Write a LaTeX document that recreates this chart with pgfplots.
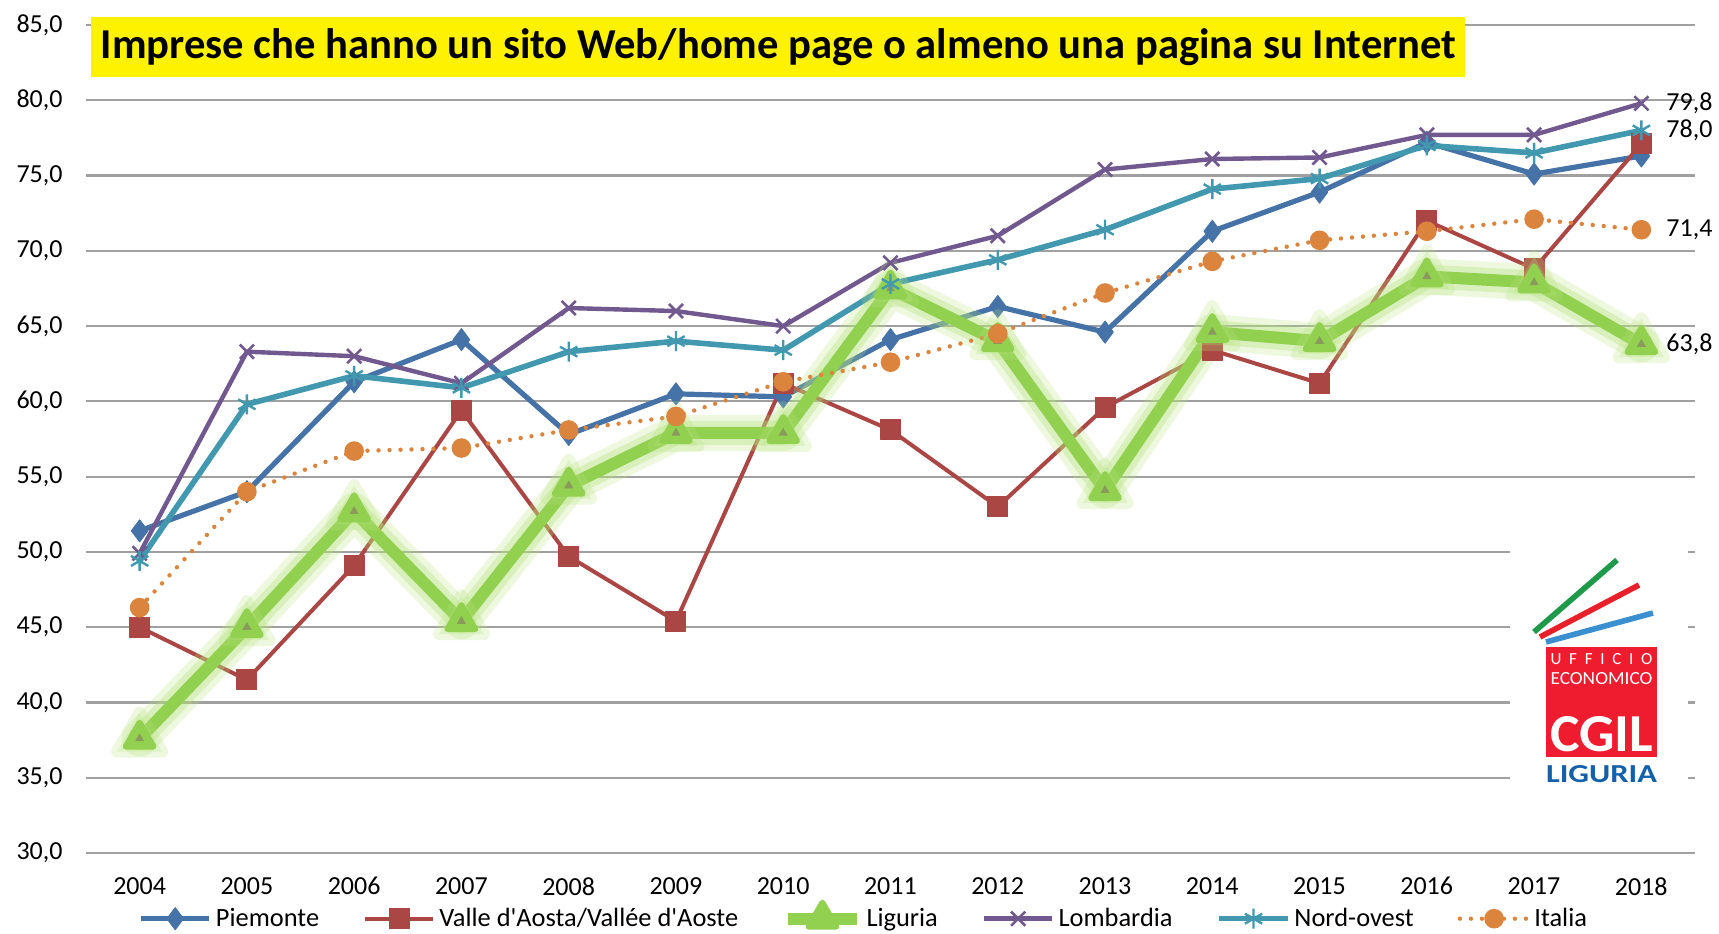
\documentclass[border=0pt]{standalone}
\usepackage{fontspec}
\setmainfont{Carlito}
\usepackage{pgfplots}
\pgfplotsset{compat=1.18}
\usepackage{graphicx}

\definecolor{cPie}{HTML}{4572A7}
\definecolor{cVda}{HTML}{AA4643}
\definecolor{cLig}{HTML}{92D050}
\definecolor{cLigGlow}{HTML}{B6E27E}
\definecolor{cLigIn}{HTML}{8A9A5B}
\definecolor{cLom}{HTML}{71588F}
\definecolor{cNo}{HTML}{4198AF}
\definecolor{cIta}{HTML}{DB843D}
\definecolor{cGrid}{HTML}{A0A0A0}
\definecolor{logoGreen}{HTML}{1E9A4A}
\definecolor{logoRed}{HTML}{E8202A}
\definecolor{logoBlue}{HTML}{3A8FD0}
\definecolor{logoBox}{HTML}{EE1C2E}
\definecolor{logoText}{HTML}{1560A8}

\begin{document}
\begin{tikzpicture}
\begin{axis}[
  scale only axis, width=804.5pt, height=414pt,
  xmin=2003.5, xmax=2018.5, ymin=30, ymax=85,
  xtick={2004,...,2018}, ytick={30,35,...,85},
  scaled x ticks=false, scaled y ticks=false,
  ymajorgrids, grid style={cGrid, line width=1.1pt},
  axis line style={draw=none}, major tick length=0pt,
  clip=false,
  /pgf/number format/assume math mode=true,
  tick label style={font=\fontsize{13}{15}\selectfont},
  y tick label style={xshift=-8.2pt},
  yticklabel style={/pgf/number format/fixed, /pgf/number format/fixed zerofill, /pgf/number format/precision=1, /pgf/number format/use comma},
  xticklabel style={/pgf/number format/1000 sep={}},
  x tick label style={yshift=-8.6pt},
  legend columns=6,
  legend style={draw=none, fill=none, at={(0.484,-0.0785)}, anchor=center,
    font=\fontsize{13.2}{15}\selectfont, inner sep=0pt,
    /tikz/every even column/.append style={column sep=20pt}},
  legend image code/.code={\draw[mark repeat=2,mark phase=2,#1] plot coordinates {(0cm,0cm) (0.6cm,0cm) (1.2cm,0cm)};},
]
\addplot[cPie, line width=2.6pt, line join=round, mark=diamond*, mark size=5.5pt, mark options={line width=0.5pt}] coordinates {
(2004,51.4) (2005,54.0) (2006,61.3) (2007,64.1) (2008,57.8) (2009,60.5) (2010,60.3) (2011,64.1) (2012,66.3) (2013,64.6) (2014,71.3) (2015,73.9) (2016,77.2) (2017,75.1) (2018,76.3)};
\addlegendentry{Piemonte}
\addplot[cVda, line width=2pt, line join=round, mark=square*, mark size=5pt, mark options={line width=0.5pt}] coordinates {
(2004,45.0) (2005,41.5) (2006,49.1) (2007,59.4) (2008,49.7) (2009,45.4) (2010,61.2) (2011,58.1) (2012,53.0) (2013,59.6) (2014,63.4) (2015,61.2) (2016,72.0) (2017,68.8) (2018,77.1)};
\addlegendentry{Valle d\textquotesingle Aosta/Vallée d\textquotesingle Aoste}
\addplot[forget plot, cLigGlow, opacity=0.25, line width=18pt, line join=round, line cap=round, mark=triangle*, mark size=13pt, mark options={line width=6pt, line join=round}] coordinates {
(2004,37.6) (2005,45.0) (2006,52.7) (2007,45.4) (2008,54.4) (2009,57.9) (2010,57.9) (2011,67.5) (2012,64.0) (2013,54.1) (2014,64.6) (2015,64.0) (2016,68.3) (2017,67.9) (2018,63.8)};
\addplot[forget plot, cLigGlow, opacity=0.35, line width=12pt, line join=round, line cap=round] coordinates {
(2004,37.6) (2005,45.0) (2006,52.7) (2007,45.4) (2008,54.4) (2009,57.9) (2010,57.9) (2011,67.5) (2012,64.0) (2013,54.1) (2014,64.6) (2015,64.0) (2016,68.3) (2017,67.9) (2018,63.8)};
\addplot[cLig, line width=6pt, line join=round, mark=triangle*, mark size=8pt, mark options={line width=3pt, line join=round}] coordinates {
(2004,37.6) (2005,45.0) (2006,52.7) (2007,45.4) (2008,54.4) (2009,57.9) (2010,57.9) (2011,67.5) (2012,64.0) (2013,54.1) (2014,64.6) (2015,64.0) (2016,68.3) (2017,67.9) (2018,63.8)};
\addlegendentry{Liguria}
\addplot[forget plot, only marks, cLigIn, mark=triangle*, mark size=2.2pt] coordinates {
(2004,37.6) (2005,45.0) (2006,52.7) (2007,45.4) (2008,54.4) (2009,57.9) (2010,57.9) (2011,67.5) (2012,64.0) (2013,54.1) (2014,64.6) (2015,64.0) (2016,68.3) (2017,67.9) (2018,63.8)};
\addplot[cLom, line width=2.2pt, line join=round, mark=x, mark size=5pt, mark options={line width=1.3pt}] coordinates {
(2004,49.9) (2005,63.3) (2006,63.0) (2007,61.2) (2008,66.2) (2009,66.0) (2010,65.0) (2011,69.2) (2012,71.0) (2013,75.4) (2014,76.1) (2015,76.2) (2016,77.7) (2017,77.7) (2018,79.8)};
\addlegendentry{Lombardia}
\addplot[cNo, line width=2.8pt, line join=round, mark=asterisk, mark size=5pt, mark options={line width=1.2pt}] coordinates {
(2004,49.4) (2005,59.8) (2006,61.7) (2007,60.9) (2008,63.3) (2009,64.0) (2010,63.4) (2011,67.8) (2012,69.4) (2013,71.4) (2014,74.1) (2015,74.8) (2016,77.0) (2017,76.5) (2018,78.0)};
\addlegendentry{Nord-ovest}
\addplot[cIta, line width=2.2pt, dash pattern=on 0pt off 5.5pt, line cap=round, mark=*, mark size=4.5pt, mark options={solid, line width=0.8pt}] coordinates {
(2004,46.3) (2005,54.0) (2006,56.7) (2007,56.9) (2008,58.1) (2009,59.0) (2010,61.3) (2011,62.6) (2012,64.5) (2013,67.2) (2014,69.3) (2015,70.7) (2016,71.3) (2017,72.1) (2018,71.4)};
\addlegendentry{Italia}
\node[anchor=west, font=\fontsize{13}{15}\selectfont, xshift=9pt] at (axis cs:2018,79.8) {79,8};
\node[anchor=west, font=\fontsize{13}{15}\selectfont, xshift=9pt] at (axis cs:2018,78.0) {78,0};
\node[anchor=west, font=\fontsize{13}{15}\selectfont, xshift=9pt] at (axis cs:2018,71.4) {71,4};
\node[anchor=west, font=\fontsize{13}{15}\selectfont, xshift=9pt] at (axis cs:2018,63.8) {63,8};
\end{axis}
% title
\node[fill=yellow, anchor=north west, minimum width=687pt, minimum height=30pt, inner sep=0pt,
  font=\fontsize{21.3}{25}\selectfont\bfseries] at (2.5pt,418pt)
  {Imprese che hanno un sito Web/home page o almeno una pagina su Internet};
% logo
\fill[white] (712pt,34pt) rectangle (801pt,155pt);
\draw[logoGreen, line width=2.8pt] (724pt,110.5pt) -- (765.5pt,146.5pt);
\draw[logoRed, line width=2.8pt] (727pt,108pt) -- (776.5pt,134pt);
\draw[logoBlue, line width=2.8pt] (730pt,105.5pt) -- (783.5pt,120pt);
\fill[logoBox] (730pt,48pt) rectangle (785.5pt,103pt);
\node[white, inner sep=0pt] at (757.75pt,97pt)
  {\resizebox{51pt}{5.5pt}{\makebox[60pt][s]{U\hfill F\hfill F\hfill I\hfill C\hfill I\hfill O}}};
\node[white, inner sep=0pt] at (757.75pt,87pt) {\resizebox{51pt}{6pt}{ECONOMICO}};
\node[white, inner sep=0pt] at (757.75pt,59.5pt) {\resizebox{51.5pt}{17.5pt}{\bfseries CGIL}};
\node[logoText, inner sep=0pt] at (757.75pt,39.5pt) {\resizebox{55.5pt}{8.5pt}{\bfseries LIGURIA}};
\pgfresetboundingbox
\path[use as bounding box] (-43pt,-40pt) rectangle (816.5pt,426.5pt);
\end{tikzpicture}
\end{document}
